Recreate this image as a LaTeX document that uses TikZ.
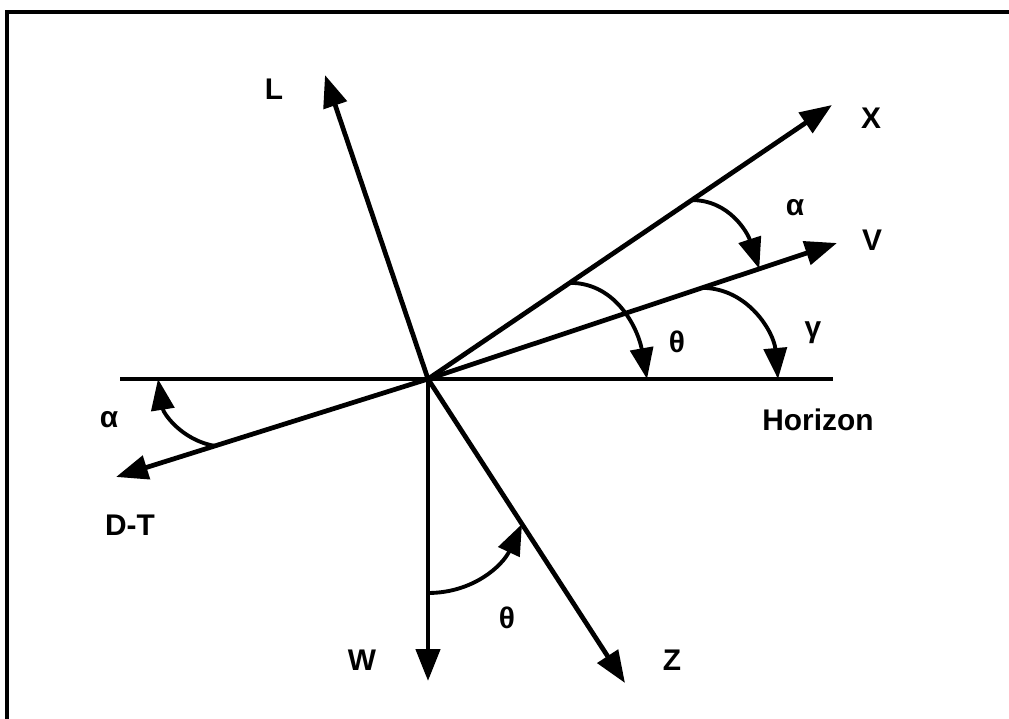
\documentclass[tikz,border=0pt]{standalone}
\usepackage{fontspec}
\setmainfont{Liberation Sans}
\usetikzlibrary{arrows.meta, calc}
\tikzset{
	vec/.style={line width=2.7pt, -{Triangle[length=6.4mm, width=4.8mm]}},
	angarc/.style={line width=2.2pt, -{Triangle[length=6.2mm, width=4.6mm]}},
	lbl/.style={font=\fontsize{17}{20}\selectfont\bfseries, inner sep=0pt},
	frame/.style={line width=2.8pt}
}

\begin{document}
\begin{tikzpicture}[x=0.02cm, y=0.02cm]
	\useasboundingbox (0,0) rectangle (1009,-719);
	
	% --- Frame (only top and left edges show) ---
	\draw[frame] (7,-719) -- (7,-12) -- (1009,-12);
	
	% --- Axes ---
	\coordinate (O) at (428,-379);
	\coordinate (hzL) at (120,-379);
	\coordinate (hzR) at (833,-379);
	\coordinate (tipL) at (325,-75);
	\coordinate (tipX) at (832,-105);
	\coordinate (tipV) at (837,-243);
	\coordinate (tipDT) at (116,-477);
	\coordinate (tipW) at (428,-681);
	\coordinate (tipZ) at (625,-683);
	
	\draw[line width=2.7pt] (hzL) -- (hzR);
	\draw[vec] (O) -- (tipL);
	\draw[vec] (O) -- (tipX);
	\draw[vec] (O) -- (tipV);
	\draw[vec] (O) -- (tipDT);
	\draw[vec] (O) -- (tipW);
	\draw[vec] (O) -- (tipZ);
	
	% --- Angle arcs ---
	\draw[angarc] ($(O)!0.653!(tipX)$) to[out=0, in=108] ($(O)!0.81!(tipV)$);
	\draw[angarc] ($(O)!0.351!(tipX)$) to[out=0, in=100] (647,-379);
	\draw[angarc] ($(O)!0.67!(tipV)$) to[out=0, in=95] (778,-379);
	\draw[angarc] ($(O)!0.683!(tipDT)$) to[out=170, in=-81] (158,-379);
	\draw[angarc] (428,-593) to[out=0, in=-115] ($(O)!0.477!(tipZ)$);
	
	% --- Labels ---
	\node[lbl] (labL) at (274,-89) {L};
	\node[lbl] (labX) at (871,-118) {X};
	\node[lbl] (labV) at (872,-240) {V};
	\node[lbl] (labZ) at (672,-660) {Z};
	\node[lbl] (labW) at (362,-660) {W};
	\node[lbl] (labDT) at (130,-525) {D-T};
	\node[lbl] (labHz) at (818,-420) {Horizon};
	\node[lbl] (alphaX) at (795,-208) {α};
	\node[lbl] (thetaX) at (677,-342) {θ};
	\node[lbl] (gammaV) at (813,-333) {γ};
	\node[lbl] (alphaDT) at (109,-420) {α};
	\node[lbl] (thetaZ) at (507,-618) {θ};
\end{tikzpicture}
\end{document}
